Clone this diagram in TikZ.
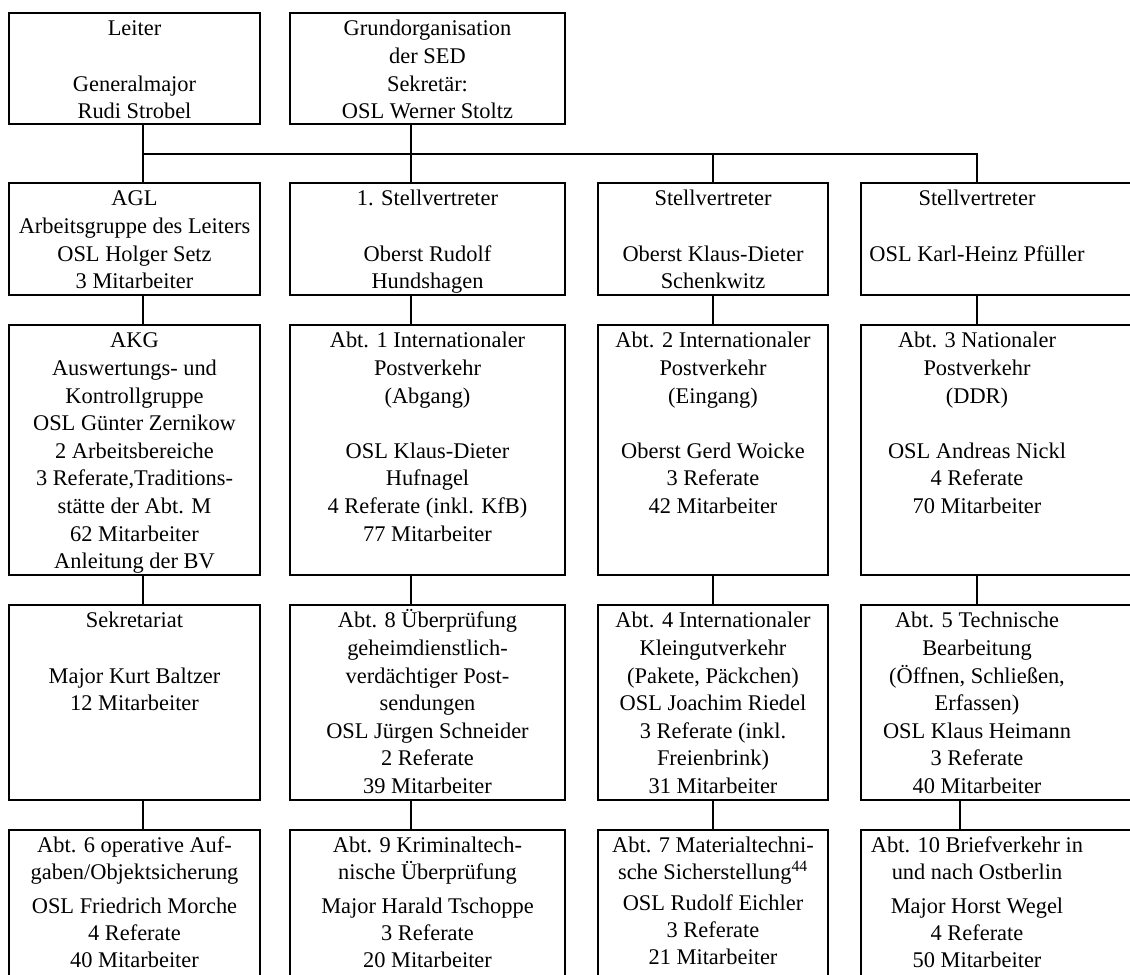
\documentclass[tikz,border=0pt]{standalone}
\usepackage{fontspec}
\setmainfont{Liberation Serif}
\usetikzlibrary{positioning}

\tikzset{
  frame/.style={draw, line width=1.7pt, inner sep=0pt, outer sep=0pt, anchor=north west},
  boxtext/.style={anchor=north, align=center, inner xsep=0pt, inner ysep=2pt,
    font=\fontsize{16.8}{20.7}\selectfont},
  lastrow/.style={font=\fontsize{16.8}{20.2}\selectfont},
  link/.style={line width=1.7pt}
}
\newcommand{\orgbox}[6][]{%
  \pgfmathsetmacro\bw{#4*0.75}\pgfmathsetmacro\bh{#5*0.75}%
  \node[frame, minimum width=\bw pt, minimum height=\bh pt] (#2) at (#3) {};
  \node[boxtext, #1] at (#2.north) {\rule{0pt}{15pt}#6};
}

\begin{document}
\begin{tikzpicture}[x=0.75pt, y=-0.75pt]
  \useasboundingbox (0,0) rectangle (1130,974);
  \clip (0,0) rectangle (1130,974);

  \orgbox{leiter}{9,13}{251}{111}{Leiter\\~\\Generalmajor\\Rudi Strobel}
  \orgbox{sed}{290,13}{275}{111}{Grundorganisation\\der SED\\Sekretär:\\OSL Werner Stoltz}

  \orgbox{agl}{9,183}{251}{112}{AGL\\Arbeitsgruppe des Leiters\\OSL Holger Setz\\3 Mitarbeiter}
  \orgbox{sv1}{290,183}{275}{112}{1. Stellvertreter\\~\\Oberst Rudolf\\Hundshagen}
  \orgbox{sv2}{598,183}{230}{112}{Stellvertreter\\~\\Oberst Klaus-Dieter\\Schenkwitz}
  \orgbox[xshift=-25.5pt]{sv3}{861,183}{300}{112}{Stellvertreter\\~\\OSL Karl-Heinz Pfüller}

  \orgbox{akg}{9,325}{251}{250}{AKG\\Auswertungs- und\\Kontrollgruppe\\OSL Günter Zernikow\\2 Arbeitsbereiche\\3 Referate,Traditions-\\stätte der Abt. M\\62 Mitarbeiter\\Anleitung der BV}
  \orgbox{abt1}{290,325}{275}{250}{Abt. 1 Internationaler\\Postverkehr\\(Abgang)\\~\\OSL Klaus-Dieter\\Hufnagel\\4 Referate (inkl. KfB)\\77 Mitarbeiter}
  \orgbox{abt2}{598,325}{230}{250}{Abt. 2 Internationaler\\Postverkehr\\(Eingang)\\~\\Oberst Gerd Woicke\\3 Referate\\42 Mitarbeiter}
  \orgbox[xshift=-25.5pt]{abt3}{861,325}{300}{250}{Abt. 3 Nationaler\\Postverkehr\\(DDR)\\~\\OSL Andreas Nickl\\4 Referate\\70 Mitarbeiter}

  \orgbox{sekr}{9,605}{251}{195}{Sekretariat\\~\\Major Kurt Baltzer\\12 Mitarbeiter}
  \orgbox{abt8}{290,605}{275}{195}{Abt. 8 Überprüfung\\geheimdienstlich-\\verdächtiger Post-\\sendungen\\OSL Jürgen Schneider\\2 Referate\\39 Mitarbeiter}
  \orgbox{abt4}{598,605}{230}{195}{Abt. 4 Internationaler\\Kleingutverkehr\\(Pakete, Päckchen)\\OSL Joachim Riedel\\3 Referate (inkl.\\Freienbrink)\\31 Mitarbeiter}
  \orgbox[xshift=-25.5pt]{abt5}{861,605}{300}{195}{Abt. 5 Technische\\Bearbeitung\\(Öffnen, Schließen,\\Erfassen)\\OSL Klaus Heimann\\3 Referate\\40 Mitarbeiter}

  \orgbox[lastrow]{abt6}{9,830}{251}{170}{Abt. 6 operative Auf-\\gaben/Objektsicherung\\[5pt]OSL Friedrich Morche\\4 Referate\\40 Mitarbeiter}
  \orgbox[lastrow]{abt9}{290,830}{275}{170}{Abt. 9 Kriminaltech-\\nische Überprüfung\\[5pt]Major Harald Tschoppe\\3 Referate\\20 Mitarbeiter}
  \orgbox[lastrow]{abt7}{598,830}{230}{170}{Abt. 7 Materialtechni-\\sche Sicherstellung\textsuperscript{44}\\[3pt]OSL Rudolf Eichler\\3 Referate\\21 Mitarbeiter}
  \orgbox[lastrow, xshift=-25.5pt]{abt10}{861,830}{300}{170}{Abt. 10 Briefverkehr in\\und nach Ostberlin\\[5pt]Major Horst Wegel\\4 Referate\\50 Mitarbeiter}

  \coordinate (ca) at (143,0);
  \coordinate (cb) at (411,0);
  \coordinate (cc) at (713,0);
  \coordinate (cd) at (977,0);
  \coordinate (ce) at (960,0);
  \coordinate (bus) at (0,154);

  \draw[link] (leiter.south -| ca) -- (agl.north -| ca);
  \draw[link] (sed.south -| cb) -- (sv1.north -| cb);
  \draw[link] (bus -| ca) -- (bus -| cd) -- (sv3.north -| cd);
  \draw[link] (bus -| cc) -- (sv2.north -| cc);
  \foreach \a/\b/\c in {agl/akg/ca, akg/sekr/ca, sekr/abt6/ca,
      sv1/abt1/cb, abt1/abt8/cb, abt8/abt9/cb,
      sv2/abt2/cc, abt2/abt4/cc, abt4/abt7/cc,
      sv3/abt3/cd, abt3/abt5/cd, abt5/abt10/ce}
    \draw[link] (\a.south -| \c) -- (\b.north -| \c);
\end{tikzpicture}
\end{document}
